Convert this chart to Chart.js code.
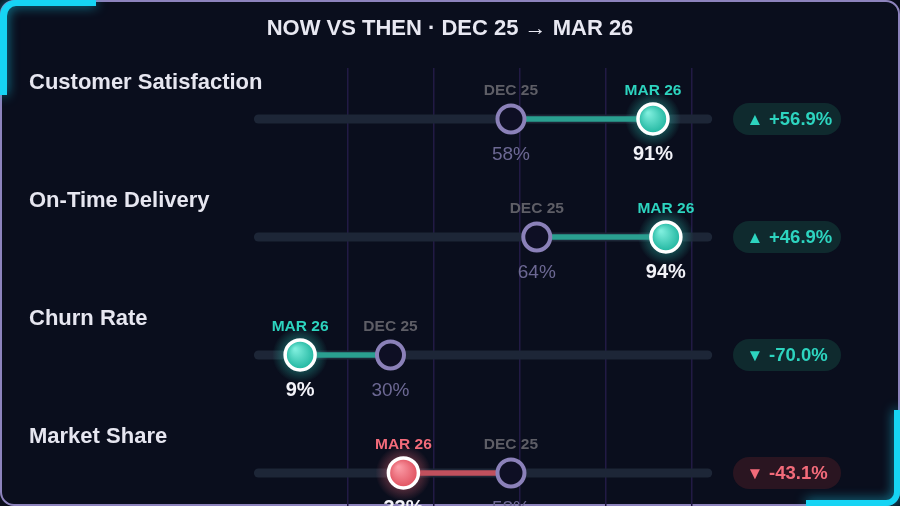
<!DOCTYPE html>
<html lang="en">
<head>
    <meta charset="UTF-8">
    <script src="https://cdn.jsdelivr.net/npm/chart.js"></script>
    <title>Now vs Then</title>
    <style>
        html, body { margin: 0; padding: 0; background: #0a0d1b; }
        .card {
            position: absolute; left: 0; top: 0; width: 900px; height: 506px;
            box-sizing: border-box; border: 2px solid #8d83bd; border-radius: 14px;
            background: #0a0e1d; overflow: hidden;
        }
        #grafico { position: absolute; left: 0; top: 0; width: 900px; height: 506px; }
        .canto { position: absolute; border-color: #16d4f4; border-style: solid;
                 filter: drop-shadow(0 0 6px rgba(22, 212, 244, 0.7)); }
        .canto.tl { left: 0; top: 0; width: 89px; height: 89px;
                    border-width: 6px 0 0 7px; border-top-left-radius: 16px; }
        .canto.br { right: 0; bottom: 0; width: 88px; height: 90px;
                    border-width: 0 6px 6px 0; border-bottom-right-radius: 14px; }
    </style>
</head>
<body>
    <div class="card"></div>
    <canvas id="grafico" width="900" height="506"></canvas>
    <div class="canto tl"></div>
    <div class="canto br"></div>

    <script>
        const titulo = 'NOW VS THEN · DEC 25 → MAR 26';
        const metricas = ['Customer Satisfaction', 'On-Time Delivery', 'Churn Rate', 'Market Share'];
        const dec25 = [58, 64, 30, 58];
        const mar26 = [91, 94, 9, 33];
        const variacao = [56.9, 46.9, -70.0, -43.1];
        const maiorMelhor = [true, true, false, true];
        const linhas = [0, 1, 2, 3];

        const TEAL = '#2dd4bf';
        const RED = '#f26b7a';

        function bom(i) {
            return maiorMelhor[i] ? variacao[i] >= 0 : variacao[i] <= 0;
        }

        const conectores = linhas.map(i => ({
            type: 'line',
            data: [{ x: dec25[i], y: i }, { x: mar26[i], y: i }],
            borderColor: bom(i) ? '#2a9f90' : '#c0505d',
            borderWidth: 5.5,
            pointRadius: 0,
            order: 3,
            clip: false
        }));

        const ctx = document.getElementById('grafico');

        const fundoTrilho = {
            id: 'fundoTrilho',
            beforeDatasetsDraw(chart) {
                const c = chart.ctx, xs = chart.scales.x, ys = chart.scales.y;
                c.save();
                c.lineCap = 'round';
                c.lineWidth = 9;
                c.strokeStyle = '#1d2637';
                linhas.forEach(i => {
                    const y = ys.getPixelForValue(i);
                    c.beginPath();
                    c.moveTo(xs.getPixelForValue(0) - 3, y);
                    c.lineTo(xs.getPixelForValue(100) + 16, y);
                    c.stroke();
                });
                // brilho dos marcadores MAR 26
                linhas.forEach(i => {
                    const x = xs.getPixelForValue(mar26[i]), y = ys.getPixelForValue(i);
                    const g = c.createRadialGradient(x, y, 14, x, y, 28);
                    const cor = bom(i) ? '45,212,191' : '242,107,122';
                    g.addColorStop(0, 'rgba(' + cor + ',0.35)');
                    g.addColorStop(1, 'rgba(' + cor + ',0)');
                    c.fillStyle = g;
                    c.beginPath();
                    c.arc(x, y, 28, 0, Math.PI * 2);
                    c.fill();
                });
                c.restore();
            }
        };

        const textos = {
            id: 'textos',
            afterDatasetsDraw(chart) {
                const c = chart.ctx, xs = chart.scales.x, ys = chart.scales.y;
                const fonte = '"Liberation Sans", Arial, sans-serif';
                c.save();
                c.textBaseline = 'middle';

                c.textAlign = 'center';
                c.fillStyle = '#e8e8f2';
                c.font = 'bold 22px ' + fonte;
                c.fillText(titulo, 450, 29);

                linhas.forEach(i => {
                    const y = ys.getPixelForValue(i);
                    const xd = xs.getPixelForValue(dec25[i]);
                    const xm = xs.getPixelForValue(mar26[i]);
                    const cor = bom(i) ? TEAL : RED;

                    c.textAlign = 'left';
                    c.fillStyle = '#e6e6f0';
                    c.font = 'bold 22px ' + fonte;
                    c.fillText(metricas[i], 29, y - 36);

                    c.textAlign = 'center';
                    c.font = 'bold 15.5px ' + fonte;
                    c.fillStyle = '#5e5e66';
                    c.fillText('DEC 25', xd, y - 28);
                    c.fillStyle = cor;
                    c.fillText('MAR 26', xm, y - 28);

                    c.font = '19px ' + fonte;
                    c.fillStyle = '#6c6893';
                    c.fillText(dec25[i] + '%', xd, y + 36);
                    c.font = 'bold 20px ' + fonte;
                    c.fillStyle = '#f2f2f8';
                    c.fillText(mar26[i] + '%', xm, y + 36);

                    // pílula de variação
                    const px = 733, pw = 108, ph = 32;
                    c.fillStyle = bom(i) ? '#0f2a2e' : '#2a1521';
                    c.beginPath();
                    c.roundRect(px, y - ph / 2, pw, ph, ph / 2);
                    c.fill();
                    c.fillStyle = cor;
                    c.font = 'bold 17px ' + fonte;
                    c.fillText(variacao[i] >= 0 ? '▲' : '▼', px + 22, y + 1);
                    c.textAlign = 'left';
                    c.font = 'bold 18.5px ' + fonte;
                    const sinal = variacao[i] >= 0 ? '+' : '';
                    c.fillText(sinal + variacao[i].toFixed(1) + '%', px + 36, y + 1);
                });
                c.restore();
            }
        };

        function gradienteMarcador(context) {
            const i = context.dataIndex;
            const el = context.element;
            if (!el || el.x === undefined) return bom(i) ? TEAL : RED;
            const c = context.chart.ctx;
            const g = c.createRadialGradient(el.x - 5, el.y - 6, 1, el.x, el.y, 15);
            if (bom(i)) {
                g.addColorStop(0, '#7eeedd');
                g.addColorStop(1, '#1fb59f');
            } else {
                g.addColorStop(0, '#fb9ba6');
                g.addColorStop(1, '#e0515f');
            }
            return g;
        }

        const grafico = new Chart(ctx, {
            type: 'scatter',
            data: {
                datasets: [
                    ...conectores,
                    {
                        label: 'DEC 25',
                        data: linhas.map(i => ({ x: dec25[i], y: i })),
                        pointRadius: 13.5,
                        backgroundColor: '#0e0f24',
                        borderColor: '#8b81b9',
                        borderWidth: 4,
                        order: 2,
                        clip: false
                    },
                    {
                        label: 'MAR 26',
                        data: linhas.map(i => ({ x: mar26[i], y: i })),
                        pointRadius: 15,
                        backgroundColor: gradienteMarcador,
                        borderColor: '#ffffff',
                        borderWidth: 3.5,
                        order: 1,
                        clip: false
                    }
                ]
            },
            options: {
                responsive: false,
                animation: false,
                events: [],
                layout: {
                    autoPadding: false,
                    padding: { left: 261.4, right: 208.3, top: 68, bottom: 0 }
                },
                plugins: { legend: { display: false }, tooltip: { enabled: false } },
                scales: {
                    x: {
                        type: 'linear',
                        min: 0,
                        max: 100,
                        ticks: { display: false, stepSize: 20, padding: 0 },
                        border: { display: false },
                        afterFit: s => { s.height = 0; },
                        grid: {
                            drawTicks: false,
                            lineWidth: 1.5,
                            color: c => c.tick && c.tick.value === 0 ? 'rgba(0,0,0,0)' : '#221a45'
                        }
                    },
                    y: {
                        type: 'linear',
                        display: false,
                        reverse: true,
                        min: -0.432,
                        max: 3.28
                    }
                }
            },
            plugins: [fundoTrilho, textos]
        });
    </script>
</body>
</html>
